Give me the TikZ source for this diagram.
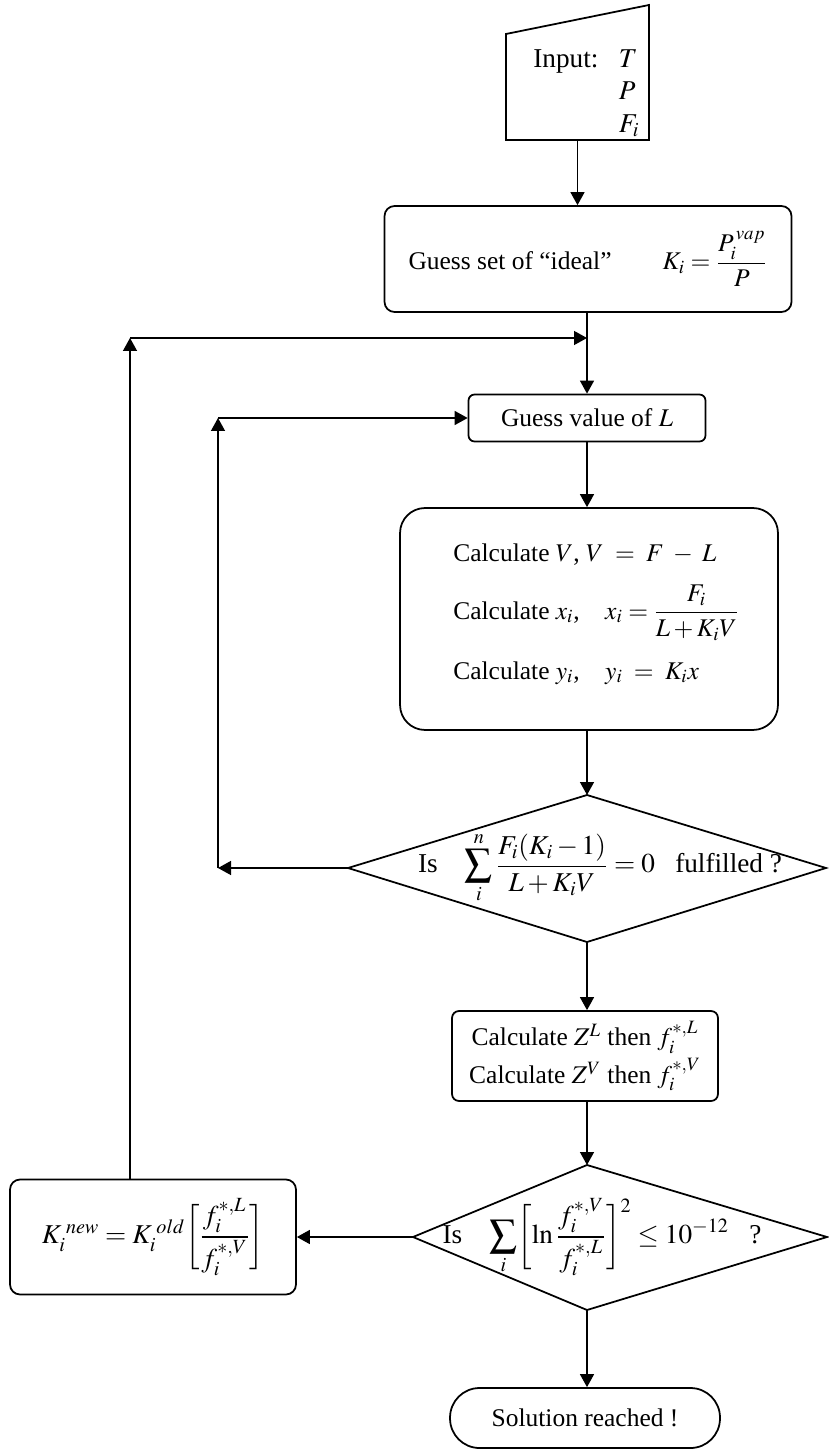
\documentclass[tikz,border=0pt]{standalone}
\usepackage{amsmath,amssymb}
\usepackage{mathptmx}
\usepackage{fontspec}
\setmainfont{Liberation Serif}
\usetikzlibrary{positioning,arrows.meta,calc}

\begin{document}
\begin{tikzpicture}[
    x=0.02cm, y=-0.02cm,
    font=\fontsize{14.5}{17.5}\selectfont,
    big/.style={font=\fontsize{15.5}{18.5}\selectfont},
    outline/.style={draw, line width=1pt},
    box/.style={outline, rounded corners=#1, align=center, inner sep=0pt},
    box/.default=0.15cm,
    txt/.style={inner sep=0pt, align=center},
    arr/.style={-{Triangle[length=2.6mm, width=2.8mm]}, line width=0.8pt},
  ]
  \useasboundingbox (0,0) rectangle (828,1452);

  % ===== input (manual input shape) =====
  \coordinate (inBL) at (506,140);
  \coordinate (inTL) at (506,34);
  \coordinate (inTR) at (649,5);
  \coordinate (inBR) at (649,140);
  \draw[outline] (inBL) -- (inTL) -- (inTR) -- (inBR) -- cycle;
  \node[txt, anchor=north west, big] (inp) at (533,44)
    {\begin{tabular}{@{}l@{\ \ \ }l@{}}
       Input: & $T$\\
              & $P$\\
              & $F_i$
     \end{tabular}};
  \coordinate (inB) at ($(inBL)!0.5!(inBR)$);

  % ===== main column =====
  \node[box=0.2cm, minimum width=8.14cm, minimum height=2.12cm] (gk) at (588,259)
    {Guess set of ``ideal''\qquad $K_i=\dfrac{P_i^{\,vap}}{P}$};
  \node[box=0.12cm, minimum width=4.74cm, minimum height=0.94cm] (gl) at (587,418)
    {Guess value of $L$};
  \node[box=0.5cm, minimum width=7.56cm, minimum height=4.44cm] (calc) at (589,619) {};
  \node[txt, anchor=base west] (calcV) at (453,561)
    {Calculate $V$, $V\;=\;F\;-\;L$};
  \node[txt, anchor=base west] (calcX) at (453,619)
    {Calculate $x_i$,\quad $x_i=\dfrac{F_i}{L+K_iV}$};
  \node[txt, anchor=base west] (calcY) at (453,679)
    {Calculate $y_i$,\quad $y_i\;=\;K_ix$};

  % first test
  \coordinate (d1t) at (587,795);
  \coordinate (d1l) at (348,868);
  \coordinate (d1r) at (826,868);
  \coordinate (d1b) at (587,942);
  \draw[outline] (d1t) -- (d1r) -- (d1b) -- (d1l) -- cycle;
  \node[txt, big] (d1) at (600,868)
    {Is\quad $\displaystyle\sum_i^n\frac{F_i(K_i-1)}{L+K_iV}=0$\ \ \ fulfilled ?};

  \node[box=0.14cm, minimum width=5.32cm, minimum height=1.8cm] (cz) at (585,1056)
    {Calculate $Z^L$ then $f_i^{*,L}$\\[2pt] Calculate $Z^V$ then $f_i^{*,V}$};

  % second test
  \coordinate (d2t) at (587,1165);
  \coordinate (d2l) at (413,1237);
  \coordinate (d2r) at (827,1237);
  \coordinate (d2b) at (587,1310);
  \draw[outline] (d2t) -- (d2r) -- (d2b) -- (d2l) -- cycle;
  \node[txt, big] (d2) at (602,1237)
    {Is\quad $\displaystyle\sum_i\biggl[\ln\frac{f_i^{*,V}}{f_i^{*,L}}\biggr]^2\le 10^{-12}$\ \ \ ?};

  \node[box=0.2cm, minimum width=5.72cm, minimum height=2.3cm, big] (kn) at (153,1237)
    {$K_i^{\;new}=K_i^{\;old}\biggl[\dfrac{f_i^{*,L}}{f_i^{*,V}}\biggr]$};

  \node[box=0.59cm, minimum width=5.4cm, minimum height=1.2cm] (sol) at (585,1418)
    {Solution reached !};

  % ===== connectors =====
  \coordinate (outTop) at (130,338);
  \coordinate (inLow) at (218,868);
  \coordinate (inTop) at (218,418);

  \draw[arr] (inB) -- (inB |- gk.north);
  \draw[arr] (gl.north |- gk.south) -- (gl.north);
  \draw[arr] (gl) -- (calc.north -| gl.south);
  \draw[arr] (calc.south -| d1t) -- (d1t);
  \draw[arr] (d1b) -- (d1b |- cz.north);
  \draw[arr] (d1b |- cz.south) -- (d2t);
  \draw[arr] (d2l) -- (kn.east);
  \draw[arr] (d2b) -- (d2b |- sol.north);

  % loop back to the L guess
  \draw[arr] (d1l) -- (inLow);
  \draw[arr] (inLow) -- (inTop);
  \draw[arr] (inTop) -- (gl.west);

  % loop back to the K guess
  \draw[arr] (outTop |- kn.north) -- (outTop);
  \draw[arr] (outTop) -- (outTop -| gl.north);

\end{tikzpicture}
\end{document}
